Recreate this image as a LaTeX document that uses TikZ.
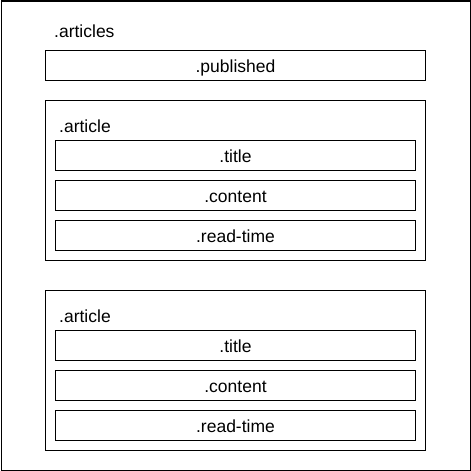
\documentclass[tikz,border=0pt]{standalone}
\usepackage{fontspec}
\setmainfont{Liberation Sans}
\begin{document}
\begin{tikzpicture}[
    x=1pt, y=-1pt,
    every node/.style={font=\fontsize{17.5}{20}\selectfont, inner sep=0pt},
    box/.style={rectangle, draw, line width=1pt, anchor=north west},
    field/.style={box, minimum width=360pt, minimum height=30pt},
    label/.style={anchor=base west},
    caption/.style={anchor=base, yshift=-7pt}
]
\useasboundingbox (0,0) rectangle (471,471);
\node[box, minimum width=469pt, minimum height=469pt] (articles) at (0.5,0.5) {};
\node[label] (articleslbl) at (54,37) {.articles};
\node[box, minimum width=380pt, minimum height=30pt] (published) at (45,50) {};
\node[caption] at (published.center) {.published};
\foreach \y/\n in {100/one, 290/two} {
    \node[box, minimum width=380pt, minimum height=160pt] (article\n) at (45,\y) {};
    \node[label] (articlelbl\n) at (59,\y+32) {.article};
    \node[field] (title\n) at (55,\y+40) {};
    \node[caption] at (title\n.center) {.title};
    \node[field] (content\n) at (55,\y+80) {};
    \node[caption] at (content\n.center) {.content};
    \node[field] (readtime\n) at (55,\y+120) {};
    \node[caption] at (readtime\n.center) {.read-time};
}
\end{tikzpicture}
\end{document}
